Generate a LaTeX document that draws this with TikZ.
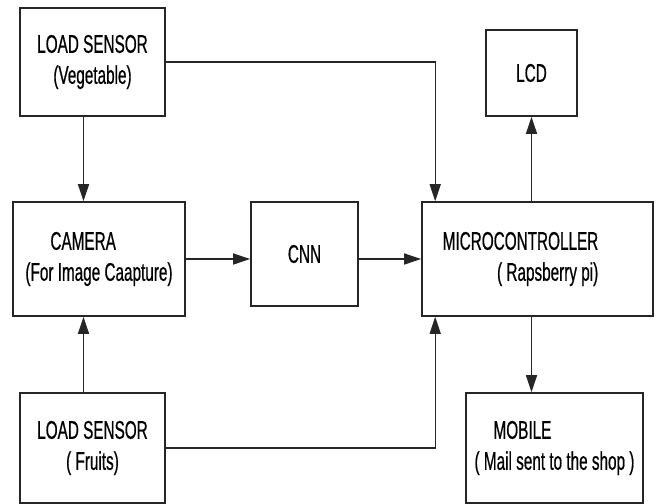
\documentclass[tikz,border=0pt]{standalone}
\usepackage{fontspec}
\setmainfont[FakeStretch=0.6,FakeBold=0.6]{Liberation Sans}
\usepackage{tikz}
\usetikzlibrary{arrows.meta,positioning}

\begin{document}
\begin{tikzpicture}[
  x=1pt,y=1pt,
  font=\fontsize{25.5}{31}\selectfont,
  box/.style={draw=black!85,line width=1.6pt,align=center,inner sep=2pt},
  arrow/.style={-{Triangle[length=17pt,width=11pt]},line width=1.4pt,draw=black!85},
]
\useasboundingbox (0,0) rectangle (657,-504);

% --- Nodes ---
\node[box,minimum width=145pt,minimum height=108pt] (veg)    at (92.5,-62)  {LOAD SENSOR\\(Vegetable)};
\node[box,align=left,minimum width=172pt,minimum height=114pt] (cam) at (99,-259)
  {\hspace*{25pt}CAMERA\\(For Image Caapture)};
\node[box,minimum width=107pt,minimum height=104pt] (cnn)    at (304.5,-254) {CNN};
\node[box,align=right,minimum width=231pt,minimum height=114pt] (micro) at (537.5,-259)
  {MICROCONTROLLER\hspace*{34pt}\\( Rapsberry pi)\hspace*{34pt}};
\node[box,minimum width=91pt, minimum height=86pt]  (lcd)    at (531.5,-73) {LCD};
\node[box,minimum width=145pt,minimum height=110pt] (fruit)  at (92.5,-448) {LOAD SENSOR\\( Fruits)};
\node[box,align=left,minimum width=177pt,minimum height=110pt] (mobile) at (554.5,-448)
  {\hspace*{19pt}MOBILE\\( Mail sent to the shop )};

% --- Flows ---
\draw[arrow] ([xshift=-9pt]veg.south) -- ([xshift=-9pt]veg.south |- cam.north);
\draw[arrow] ([xshift=-9pt]fruit.north) -- ([xshift=-9pt]fruit.north |- cam.south);
\draw[arrow] (cam.east) -- (cam.east -| cnn.west);
\draw[arrow] (cam.east -| cnn.east) -- (micro.west);
\draw[arrow] (veg.east) -| ([xshift=14pt]micro.north west);
\draw[arrow] (fruit.east) -| ([xshift=14pt]micro.south west);
\draw[arrow] (lcd.south |- micro.north) -- (lcd.south);
\draw[arrow] (lcd.south |- micro.south) -- (lcd.south |- mobile.north);
\end{tikzpicture}
\end{document}
